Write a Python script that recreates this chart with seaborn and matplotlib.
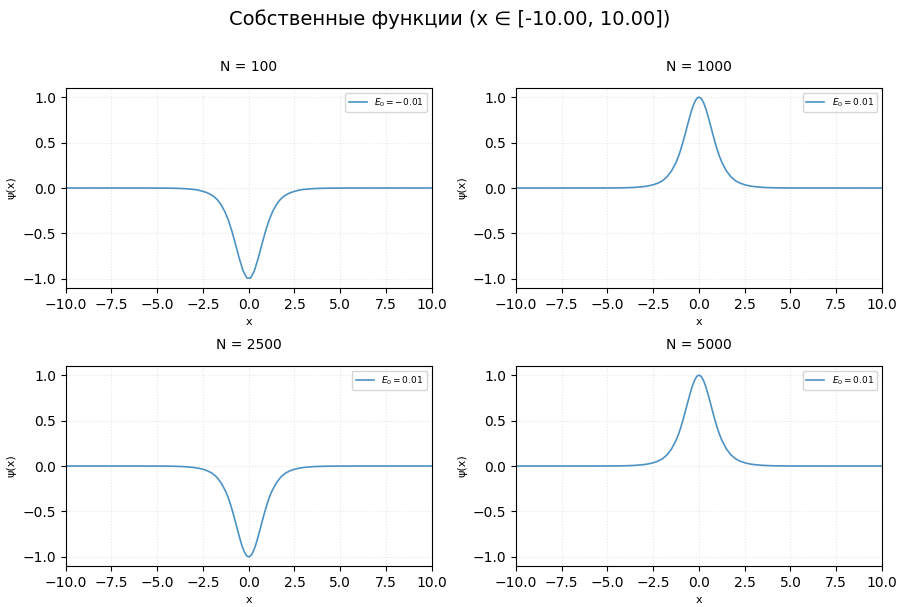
import matplotlib
matplotlib.use("Agg")
import matplotlib.pyplot as plt
import seaborn as sns
import pandas as pd

# Data
titles = ["N = 100", "N = 1000", "N = 2500", "N = 5000"]
energies = ["$E_0 = -0.01$", "$E_0 = 0.01$", "$E_0 = 0.01$", "$E_0 = 0.01$"]

x_grid = [-10.0, -7.5, -6.0, -5.0, -4.5, -4.0, -3.5, -3.0, -2.75, -2.5, -2.25, -2.0,
          -1.75, -1.5, -1.25, -1.125, -1.0, -0.875, -0.75, -0.625, -0.5, -0.375, -0.25,
          -0.125, 0.0, 0.125, 0.25, 0.375, 0.5, 0.625, 0.75, 0.875, 1.0, 1.125,
          1.25, 1.5, 1.75, 2.0, 2.25, 2.5, 2.75, 3.0, 3.5, 4.0, 4.5, 5.0, 6.0, 7.5, 10.0]

psi_peak = [0.0, 0.0, 0.0001, 0.0006, 0.0013, 0.003, 0.007, 0.016, 0.024, 0.036,
            0.053, 0.079, 0.122, 0.188, 0.283, 0.346, 0.420, 0.505, 0.597, 0.693,
            0.786, 0.872, 0.940, 0.985, 1.0, 0.985, 0.940, 0.872, 0.786, 0.693, 0.597,
            0.505, 0.420, 0.346, 0.283, 0.188, 0.122, 0.079, 0.053, 0.036, 0.024,
            0.016, 0.007, 0.003, 0.0013, 0.0006, 0.0001, 0.0, 0.0]

psi_dip = [0.0, 0.0, -0.0001, -0.0006, -0.0013, -0.003, -0.007, -0.016, -0.024, -0.036,
           -0.053, -0.079, -0.122, -0.188, -0.283, -0.346, -0.420, -0.505, -0.597, -0.693,
           -0.786, -0.872, -0.940, -0.985, -1.0, -0.985, -0.940, -0.872, -0.786, -0.693, -0.597,
           -0.505, -0.420, -0.346, -0.283, -0.188, -0.122, -0.079, -0.053, -0.036, -0.024,
           -0.016, -0.007, -0.003, -0.0013, -0.0006, -0.0001, 0.0, 0.0]

x_grid_100 = [-10.0, -7.5, -6.0, -5.0, -4.5, -4.0, -3.5, -2.929, -2.727, -2.525, -2.323,
              -2.121, -1.919, -1.717, -1.515, -1.313, -1.111, -0.909, -0.707, -0.505,
              -0.303, -0.101, 0.101, 0.303, 0.505, 0.707, 0.909, 1.111, 1.313, 1.515,
              1.717, 1.919, 2.121, 2.323, 2.525, 2.727, 2.929, 3.5, 4.0, 4.5, 5.0, 6.0,
              7.5, 10.0]

psi_100 = [0.0, 0.0, -0.0001, -0.0006, -0.0013, -0.003, -0.007, -0.017, -0.025,
           -0.035, -0.048, -0.066, -0.091, -0.128, -0.182, -0.256, -0.354, -0.481,
           -0.629, -0.782, -0.913, -0.990, -0.990, -0.913, -0.782, -0.629, -0.481, -0.354,
           -0.256, -0.182, -0.128, -0.091, -0.066, -0.048, -0.035, -0.025, -0.017,
           -0.007, -0.003, -0.0013, -0.0006, -0.0001, 0.0, 0.0]

xs = [x_grid_100, x_grid, x_grid, x_grid]
ys = [psi_100, psi_peak, psi_dip, psi_peak]

fig, axes = plt.subplots(2, 2, figsize=(9, 6.07), dpi=100)
fig.subplots_adjust(left=0.073, right=0.98, top=0.855, bottom=0.0675,
                    hspace=0.39, wspace=0.23)

for ax, t, e, xv, yv in zip(axes.flat, titles, energies, xs, ys):
    df = pd.DataFrame({"x": xv, "psi": yv})
    sns.lineplot(data=df, x="x", y="psi", ax=ax, color="#1f77b4", alpha=0.8,
                 linewidth=1.2, label=e, sort=False)
    ax.set_xlim(-10, 10)
    ax.set_ylim(-1.1, 1.1)
    ax.set_yticks([-1.0, -0.5, 0.0, 0.5, 1.0])
    ax.set_xticks([-10, -7.5, -5, -2.5, 0, 2.5, 5, 7.5, 10])
    ax.grid(True, linestyle=":", color="#d0d0d0", alpha=0.5, linewidth=0.8)
    ax.set_title(t, fontsize=10, pad=12)
    ax.set_xlabel("x", fontsize=8)
    ax.set_ylabel("ψ(x)", fontsize=8)
    ax.legend(loc="upper right", fontsize=6.5)

fig.suptitle("Собственные функции (x ∈ [-10.00, 10.00])", fontsize=14, y=0.985)
fig.savefig("out.png", dpi=100)
